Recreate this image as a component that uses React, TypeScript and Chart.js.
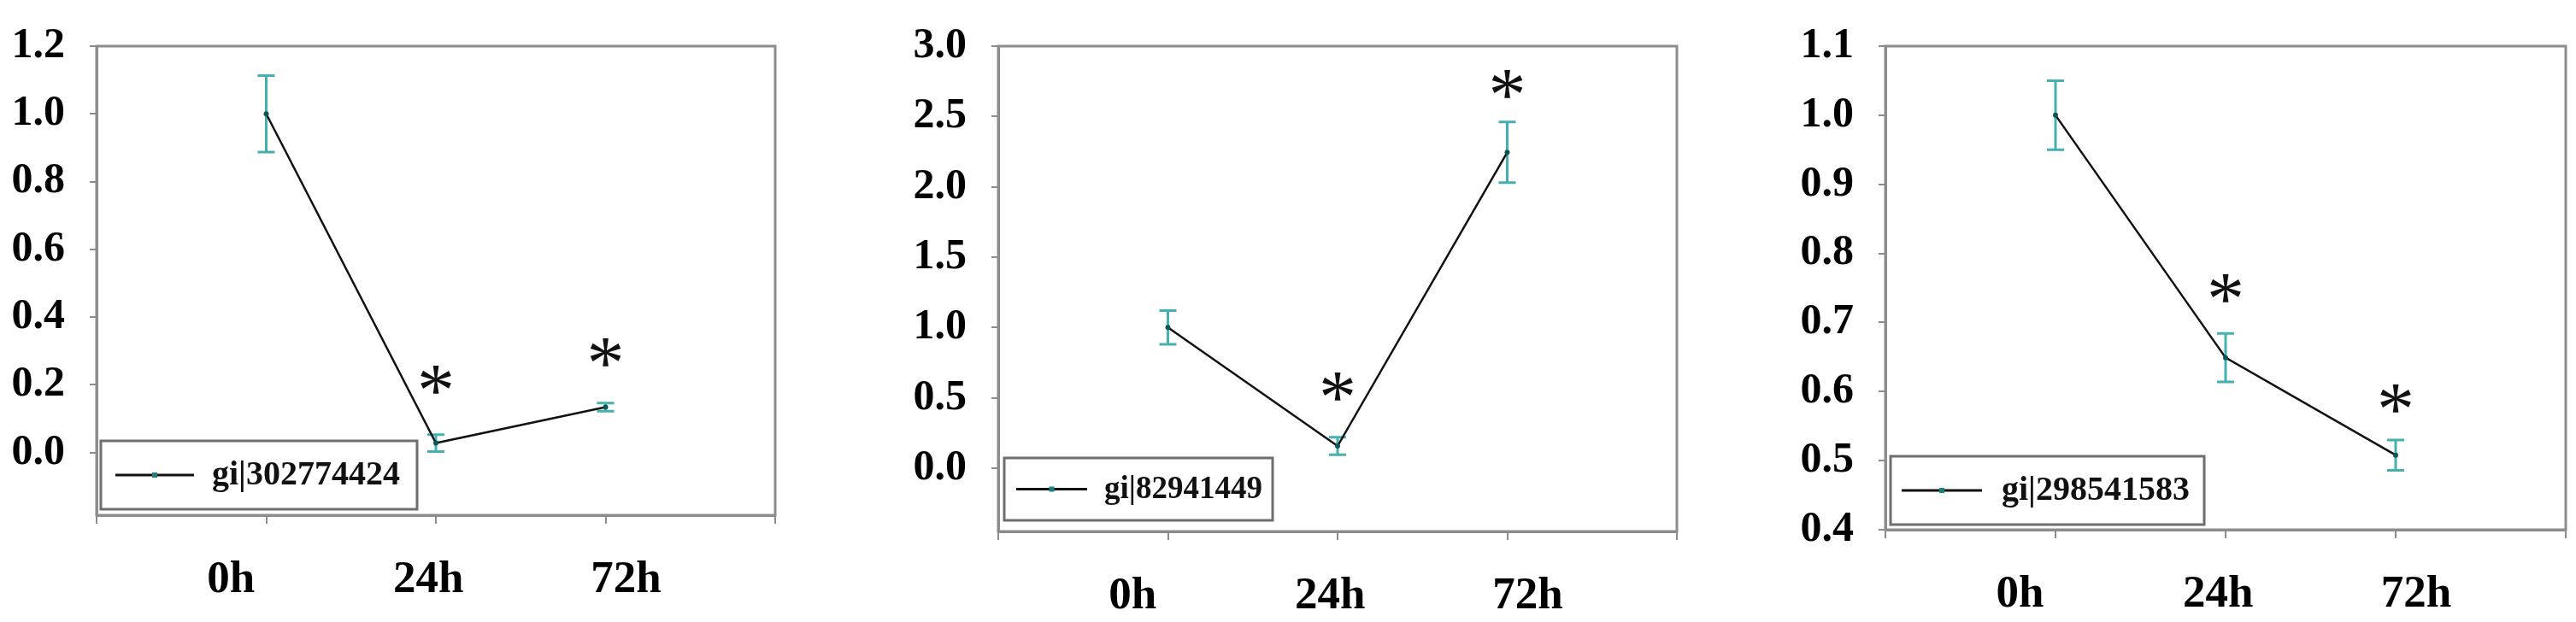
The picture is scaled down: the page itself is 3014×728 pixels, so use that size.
import React, { useEffect, useRef } from 'react';
import { Chart, registerables } from 'chart.js';

Chart.register(...registerables);

// ---------- data ----------
const timeLabels = ['0h', '24h', '72h'];

const name1 = 'gi|302774424';
const values1 = [1.0, 0.028, 0.134];
const errors1 = [0.113, 0.025, 0.012];
const stars1: (number | null)[] = [null, 0.215, 0.295];
const yTicks1 = [0, 0.2, 0.4, 0.6, 0.8, 1.0, 1.2];

const name2 = 'gi|82941449';
const values2 = [1.0, 0.157, 2.245];
const errors2 = [0.12, 0.062, 0.216];
const stars2: (number | null)[] = [null, 0.58, 2.73];
const yTicks2 = [0, 0.5, 1.0, 1.5, 2.0, 2.5, 3.0];

const name3 = 'gi|298541583';
const values3 = [1.0, 0.649, 0.508];
const errors3 = [0.05, 0.035, 0.022];
const stars3: (number | null)[] = [null, 0.749, 0.59];
const yTicks3 = [0.4, 0.5, 0.6, 0.7, 0.8, 0.9, 1.0, 1.1];

// ---------- styles / layout ----------
const FONT = "'Liberation Serif', 'Times New Roman', serif";
const AXIS = '#8c8c8c';
const ERR = '#45b0b0';
const MARK = '#0d5656';

type PanelCfg = {
  name: string;
  values: number[];
  errors: number[];
  stars: (number | null)[];
  yTicks: number[];
  yMin: number;
  yMax: number;
  canvasLeft: number;
  canvasW: number;
  yAxisW: number;
  plotRight: number;
  top: number;
  x2H: number;
  legend: { dx: number; dyB: number; w: number; h: number; l0: number; l1: number; tx: number; fs: number };
};

const panels: PanelCfg[] = [
  {
    name: name1, values: values1, errors: errors1, stars: stars1, yTicks: yTicks1, yMin: -0.185, yMax: 1.2,
    canvasLeft: 0, canvasW: 1000, yAxisW: 113, plotRight: 907, top: 29, x2H: 115,
    legend: { dx: 5, dyB: 7, w: 370, h: 80, l0: 17, l1: 109, tx: 130, fs: 40 },
  },
  {
    name: name2, values: values2, errors: errors2, stars: stars2, yTicks: yTicks2, yMin: -0.45, yMax: 3.0,
    canvasLeft: 1000, canvasW: 1000, yAxisW: 168, plotRight: 1962, top: 48, x2H: 96,
    legend: { dx: 7, dyB: 13, w: 314, h: 73, l0: 14, l1: 97, tx: 117, fs: 37 },
  },
  {
    name: name3, values: values3, errors: errors3, stars: stars3, yTicks: yTicks3, yMin: 0.4, yMax: 1.1,
    canvasLeft: 2000, canvasW: 1014, yAxisW: 206, plotRight: 3002, top: 48, x2H: 98,
    legend: { dx: 6, dyB: 6, w: 367, h: 80, l0: 13, l1: 107, tx: 130, fs: 40 },
  },
];

function PanelChart({ p }: { p: PanelCfg }) {
  const ref = useRef<HTMLCanvasElement | null>(null);

  useEffect(() => {
    const canvas = ref.current;
    if (!canvas) return;

    const framePlugin = {
      id: 'frame',
      beforeDatasetsDraw(chart: any) {
        const { ctx, chartArea: a } = chart;
        ctx.save();
        ctx.strokeStyle = AXIS;
        ctx.lineWidth = 3;
        ctx.strokeRect(a.left, a.top, a.right - a.left, a.bottom - a.top);
        // error bars
        const xs = chart.scales.x;
        const ys = chart.scales.y;
        ctx.strokeStyle = ERR;
        ctx.lineWidth = 3;
        p.values.forEach((v, i) => {
          const x = xs.getPixelForValue(i + 1);
          const yt = ys.getPixelForValue(v + p.errors[i]);
          const yb = ys.getPixelForValue(v - p.errors[i]);
          ctx.beginPath();
          ctx.moveTo(x, yt);
          ctx.lineTo(x, yb);
          ctx.moveTo(x - 10, yt);
          ctx.lineTo(x + 10, yt);
          ctx.moveTo(x - 10, yb);
          ctx.lineTo(x + 10, yb);
          ctx.stroke();
        });
        ctx.restore();
      },
    };

    const starPlugin = {
      id: 'stars',
      afterDatasetsDraw(chart: any) {
        const { ctx } = chart;
        const xs = chart.scales.x;
        const ys = chart.scales.y;
        ctx.save();
        ctx.font = `88px ${FONT}`;
        ctx.fillStyle = '#111';
        ctx.textAlign = 'left';
        ctx.textBaseline = 'alphabetic';
        const m = ctx.measureText('*');
        p.stars.forEach((s, i) => {
          if (s == null) return;
          const cx = xs.getPixelForValue(i + 1);
          const cy = ys.getPixelForValue(s);
          const w = m.actualBoundingBoxRight + m.actualBoundingBoxLeft;
          const h = m.actualBoundingBoxAscent + m.actualBoundingBoxDescent;
          ctx.fillText('*', cx - w / 2 + m.actualBoundingBoxLeft, cy + m.actualBoundingBoxAscent - h / 2);
        });
        ctx.restore();
      },
    };

    const legendPlugin = {
      id: 'boxLegend',
      afterDraw(chart: any) {
        const { ctx, chartArea: a } = chart;
        const L = p.legend;
        const left = a.left + L.dx;
        const bottom = a.bottom - L.dyB;
        const top = bottom - L.h;
        const cy = top + L.h / 2;
        ctx.save();
        ctx.fillStyle = '#fff';
        ctx.fillRect(left, top, L.w, L.h);
        ctx.strokeStyle = '#6e6e6e';
        ctx.lineWidth = 3;
        ctx.strokeRect(left, top, L.w, L.h);
        ctx.strokeStyle = '#111';
        ctx.lineWidth = 3;
        ctx.beginPath();
        ctx.moveTo(left + L.l0, cy);
        ctx.lineTo(left + L.l1, cy);
        ctx.stroke();
        ctx.fillStyle = '#1a8080';
        ctx.fillRect(left + (L.l0 + L.l1) / 2 - 3, cy - 3, 6, 6);
        ctx.fillStyle = '#111';
        ctx.font = `bold ${L.fs}px ${FONT}`;
        ctx.textAlign = 'left';
        ctx.textBaseline = 'middle';
        ctx.fillText(p.name, left + L.tx, cy + 1);
        ctx.restore();
      },
    };

    const chart = new Chart(canvas, {
      type: 'line',
      data: {
        datasets: [
          {
            label: p.name,
            data: p.values.map((v, i) => ({ x: i + 1, y: v })),
            borderColor: '#111',
            borderWidth: 2.5,
            pointRadius: 3,
            pointBackgroundColor: MARK,
            pointBorderWidth: 0,
            tension: 0,
            xAxisID: 'x',
            yAxisID: 'y',
          },
        ],
      },
      options: {
        responsive: false,
        animation: false,
        devicePixelRatio: 1,
        layout: {
          padding: {
            top: p.top,
            right: p.canvasLeft + p.canvasW - p.plotRight,
            left: 0,
            bottom: 0,
          },
        },
        plugins: {
          legend: { display: false },
          tooltip: { enabled: false },
        },
        scales: {
          x: {
            type: 'linear',
            position: 'bottom',
            min: 0,
            max: 4,
            afterBuildTicks: (s: any) => {
              s.ticks = [0, 1, 2, 3, 4].map((v) => ({ value: v }));
            },
            ticks: { display: false },
            grid: { drawOnChartArea: false, drawTicks: true, tickLength: 10, color: AXIS, lineWidth: 2 },
            border: { display: true, color: AXIS, width: 3 },
            afterFit: (s: any) => {
              s.height = 10;
            },
          },
          x2: {
            type: 'linear',
            position: 'bottom',
            min: 0.32,
            max: 3.755,
            afterBuildTicks: (s: any) => {
              s.ticks = timeLabels.map((_, i) => ({ value: i + 1 }));
            },
            ticks: {
              font: { family: FONT, weight: 'bold', size: 53 },
              color: '#000',
              padding: 27,
              maxRotation: 0,
              autoSkip: false,
              callback: (v: any) => timeLabels[Math.round(Number(v)) - 1] ?? '',
            },
            grid: { display: false },
            border: { display: false },
            afterFit: (s: any) => {
              s.height = p.x2H;
            },
          },
          y: {
            type: 'linear',
            min: p.yMin,
            max: p.yMax,
            afterBuildTicks: (s: any) => {
              s.ticks = p.yTicks.map((v) => ({ value: v }));
            },
            ticks: {
              font: { family: FONT, weight: 'bold', size: 50, lineHeight: 1 },
              color: '#000',
              padding: 29,
              autoSkip: false,
              callback: (v: any) => Number(v).toFixed(1),
            },
            grid: { drawOnChartArea: false, drawTicks: true, tickLength: 8, color: AXIS, lineWidth: 2 },
            border: { display: true, color: AXIS, width: 3 },
            afterFit: (s: any) => {
              s.width = p.yAxisW;
            },
          },
        },
      } as any,
      plugins: [framePlugin, starPlugin, legendPlugin],
    });

    return () => chart.destroy();
  }, [p]);

  return (
    <canvas
      ref={ref}
      width={p.canvasW}
      height={728}
      style={{ position: 'absolute', left: p.canvasLeft, top: 0, width: p.canvasW, height: 728 }}
    />
  );
}

export default function App() {
  return (
    <div style={{ position: 'absolute', left: 0, top: 0, width: 3014, height: 728, background: '#fff', overflow: 'hidden' }}>
      {panels.map((p) => (
        <PanelChart key={p.name} p={p} />
      ))}
    </div>
  );
}
